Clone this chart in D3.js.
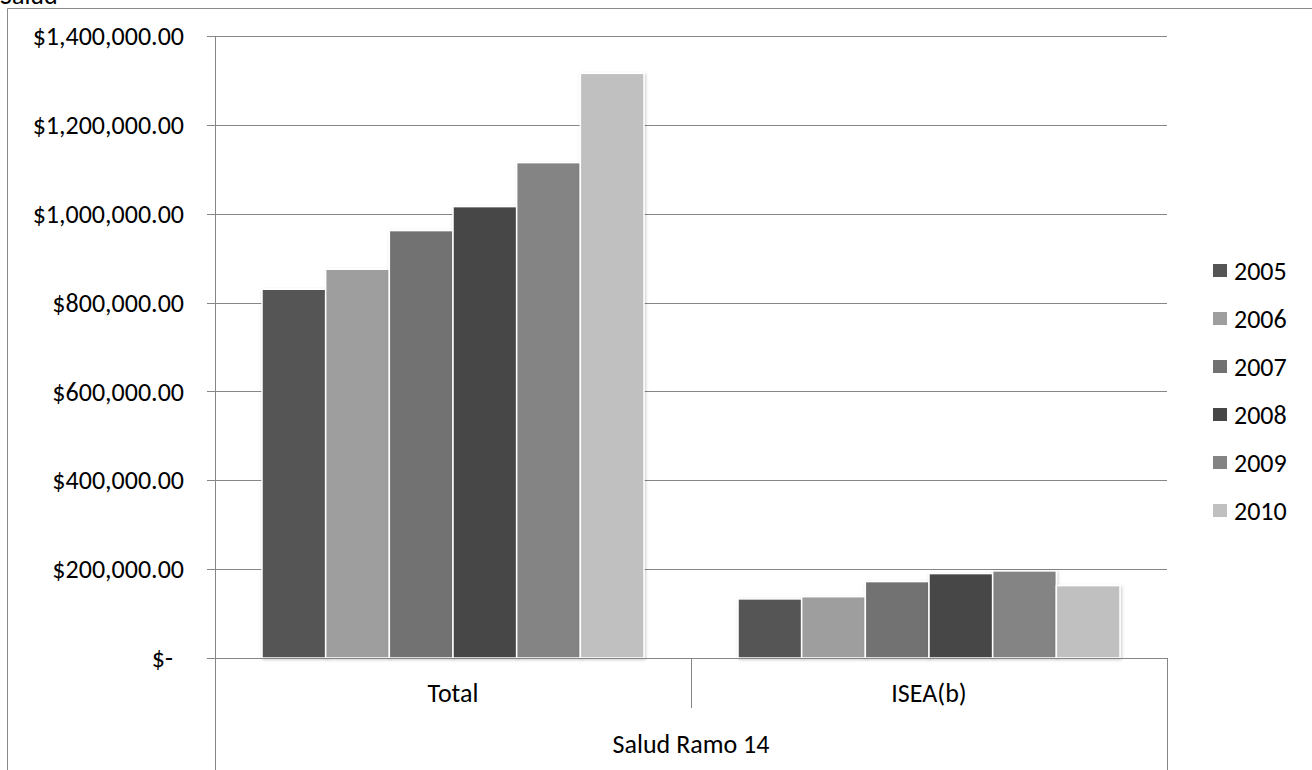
<!DOCTYPE html>
<html>
<head>
<meta charset="utf-8">
<script src="https://cdn.jsdelivr.net/npm/d3@7"></script>
<style>
  html, body { margin: 0; padding: 0; background: #fff; }
  svg { display: block; font-family: Carlito, Calibri, Lato, "Open Sans", sans-serif; }
</style>
</head>
<body>
<svg id="chart" width="1312" height="770"></svg>
<script>
// Health budget (Ramo 14) by year, two categories
const categories = ["Total", "ISEA(b)"];
const groupLabel = "Salud Ramo 14";
const years = ["2005", "2006", "2007", "2008", "2009", "2010"];
const totalValues = [830000, 875000, 962000, 1016000, 1115000, 1316000];
const iseaValues = [133000, 138000, 172000, 190000, 196000, 163000];
const yTicks = [0, 200000, 400000, 600000, 800000, 1000000, 1200000, 1400000];
const yearColors = ["#555555", "#9e9e9e", "#727272", "#464646", "#848484", "#c0c0c0"];

const seriesByCategory = [totalValues, iseaValues];

const FS = 26;
const svg = d3.select("#chart");
const plot = { left: 215, right: 1167, top: 36, bottom: 658 };

const y = d3.scaleLinear().domain([0, 1400000]).range([plot.bottom, plot.top]);
const x0 = d3.scaleBand().domain(categories).range([plot.left, plot.right]);
const x1 = d3.scaleBand().domain(years).range([47, x0.bandwidth() - 47]);
const color = d3.scaleOrdinal().domain(years).range(yearColors);

// soft shadow under bars
const defs = svg.append("defs");
const f = defs.append("filter").attr("id", "shadow").attr("x", "-10%").attr("y", "-10%").attr("width", "130%").attr("height", "130%");
f.append("feDropShadow").attr("dx", 1).attr("dy", 1).attr("stdDeviation", 1.8).attr("flood-color", "#000").attr("flood-opacity", 0.22);

// chart frame
svg.append("path")
  .attr("d", "M7.5,770 V8.5 H1312")
  .attr("fill", "none").attr("stroke", "#8a8a8a").attr("stroke-width", 1);

// chart title (sits above the frame)
svg.append("text").attr("x", 0).attr("y", 4).attr("font-size", FS).attr("fill", "#000").text("Salud");

// gridlines
svg.append("g").selectAll("line").data(yTicks).join("line")
  .attr("x1", plot.left - 8).attr("x2", plot.right)
  .attr("y1", d => Math.round(y(d)) + 0.5).attr("y2", d => Math.round(y(d)) + 0.5)
  .attr("stroke", "#868686").attr("stroke-width", 1);

// y tick labels (accounting format)
const fmt = d => d === 0 ? "$-" : "$" + d3.format(",.2f")(d);
svg.append("g").selectAll("text").data(yTicks).join("text")
  .attr("x", d => d === 0 ? 173 : 184)
  .attr("y", d => y(d))
  .attr("dy", "0.35em")
  .attr("text-anchor", "end")
  .attr("font-size", FS)
  .attr("fill", "#000")
  .text(fmt);

// bars
const groups = svg.append("g").selectAll("g").data(categories).join("g")
  .attr("transform", d => `translate(${x0(d)},0)`);
groups.selectAll("rect")
  .data((c, i) => years.map((yr, j) => ({ year: yr, value: seriesByCategory[i][j] })))
  .join("rect")
  .attr("x", d => x1(d.year))
  .attr("width", x1.bandwidth())
  .attr("y", d => y(d.value))
  .attr("height", d => y(0) - y(d.value))
  .attr("fill", d => color(d.year))
  .attr("stroke", "#fff")
  .attr("stroke-width", 1.5)
  .attr("filter", "url(#shadow)");

// y axis line
svg.append("line")
  .attr("x1", plot.left + 0.5).attr("x2", plot.left + 0.5)
  .attr("y1", plot.top).attr("y2", 770)
  .attr("stroke", "#868686");
// baseline
svg.append("line")
  .attr("x1", plot.left).attr("x2", plot.right + 0.5)
  .attr("y1", Math.round(y(0)) + 0.5).attr("y2", Math.round(y(0)) + 0.5)
  .attr("stroke", "#868686");
// right outer divider
svg.append("line")
  .attr("x1", plot.right + 0.5).attr("x2", plot.right + 0.5)
  .attr("y1", y(0)).attr("y2", 770)
  .attr("stroke", "#868686");
// divider between categories
svg.append("line")
  .attr("x1", x0(categories[1]) + 0.5).attr("x2", x0(categories[1]) + 0.5)
  .attr("y1", y(0)).attr("y2", 708)
  .attr("stroke", "#868686");

// category labels
svg.append("g").selectAll("text").data(categories).join("text")
  .attr("x", d => x0(d) + x0.bandwidth() / 2)
  .attr("y", 692.5)
  .attr("dy", "0.35em")
  .attr("text-anchor", "middle")
  .attr("font-size", FS)
  .text(d => d);

svg.append("text")
  .attr("x", (plot.left + plot.right) / 2)
  .attr("y", 744)
  .attr("dy", "0.35em")
  .attr("text-anchor", "middle")
  .attr("font-size", FS)
  .text(groupLabel);

// legend
const legend = svg.append("g").selectAll("g").data(years).join("g")
  .attr("transform", (d, i) => `translate(1213,${271 + i * 48})`);
legend.append("rect")
  .attr("x", 0).attr("y", -7).attr("width", 14).attr("height", 13)
  .attr("fill", d => color(d));
legend.append("text")
  .attr("x", 21).attr("y", 0).attr("dy", "0.35em")
  .attr("font-size", FS)
  .text(d => d);
</script>
</body>
</html>
